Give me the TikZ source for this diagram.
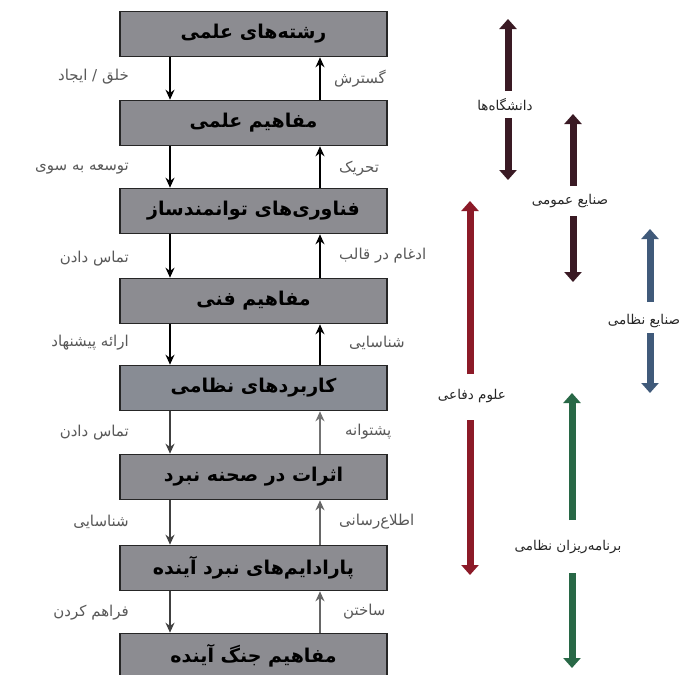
\documentclass[tikz,border=0pt]{standalone}
\usepackage{fontspec}
\usetikzlibrary{arrows.meta}
\newfontfamily\fa[Script=Arabic]{DejaVu Sans}
\TeXXeTstate=1
\definecolor{boxgray}{RGB}{140,140,145}
\definecolor{boxblue}{RGB}{136,140,148}
\definecolor{darkband}{RGB}{58,26,36}
\definecolor{redband}{RGB}{140,26,40}
\definecolor{blueband}{RGB}{64,90,122}
\definecolor{greenband}{RGB}{40,104,70}
\tikzset{
  box/.style={draw=black!85, line width=1.6, fill=boxgray, minimum width=267, minimum height=45, inner sep=0,
    font=\fa\bfseries\fontsize{19}{21}\selectfont},
  flow/.style={-{Stealth[length=10,width=9]}, line width=1.5},
  lbl/.style={font=\fa\fontsize{15}{17}\selectfont, text=black!65, inner sep=1},
  bandlbl/.style={font=\fa\fontsize{13.5}{15}\selectfont, text=black!85, inner sep=1},
  band/.style={line width=7, -{Triangle[length=10,width=17]}},
}
\begin{document}
\begin{tikzpicture}[x=1pt,y=-1pt]
\clip (0,0) rectangle (686,675);
\fill[white] (0,0) rectangle (686,675);

% boxes
\node[box] (b1) at (253.5,34)  {\beginR رشته‌های علمی\endR};
\node[box] (b2) at (253.5,123) {\beginR مفاهیم علمی\endR};
\node[box] (b3) at (253.5,211) {\beginR فناوری‌های توانمندساز\endR};
\node[box] (b4) at (253.5,301) {\beginR مفاهیم فنی\endR};
\node[box,fill=boxblue] (b5) at (253.5,388) {\beginR کاربردهای نظامی\endR};
\node[box] (b6) at (253.5,477) {\beginR اثرات در صحنه نبرد\endR};
\node[box] (b7) at (253.5,568) {\beginR پارادایم‌های نبرد آینده\endR};
\node[box] (b8) at (253.5,656) {\beginR مفاهیم جنگ آینده\endR};

\coordinate (dx) at (170,0);
\coordinate (ux) at (320,0);

% downward arrows
\foreach \a/\b/\c in {b1/b2/black, b2/b3/black, b3/b4/black, b4/b5/black, b5/b6/black!75, b6/b7/black!75, b7/b8/black!75}{
  \draw[flow, draw=\c] (\a.south -| dx) -- (\b.north -| dx);
}
% upward arrows
\foreach \a/\b/\c in {b2/b1/black, b3/b2/black, b4/b3/black, b5/b4/black, b6/b5/black!55, b7/b6/black!60, b8/b7/black!60}{
  \draw[flow, draw=\c] (\a.north -| ux) -- (\b.south -| ux);
}

% left labels
\node[lbl, anchor=east] (l1) at (130,77)  {\beginR خلق / ایجاد\endR};
\node[lbl, anchor=east] (l2) at (130,169) {\beginR توسعه به سوی\endR};
\node[lbl, anchor=east] (l3) at (130,259) {\beginR تماس دادن\endR};
\node[lbl, anchor=east] (l4) at (130,343) {\beginR ارائه پیشنهاد\endR};
\node[lbl, anchor=east] (l5) at (130,433) {\beginR تماس دادن\endR};
\node[lbl, anchor=east] (l6) at (130,522) {\beginR شناسایی\endR};
\node[lbl, anchor=east] (l7) at (130,613) {\beginR فراهم کردن\endR};

% right labels
\node[lbl, anchor=west] (r1) at (333,79)  {\beginR گسترش\endR};
\node[lbl, anchor=west] (r2) at (338,169) {\beginR تحریک\endR};
\node[lbl, anchor=west] (r3) at (338,256) {\beginR ادغام در قالب\endR};
\node[lbl, anchor=west] (r4) at (348,343) {\beginR شناسایی\endR};
\node[lbl, anchor=west] (r5) at (344,432) {\beginR پشتوانه\endR};
\node[lbl, anchor=west] (r6) at (338,522) {\beginR اطلاع‌رسانی\endR};
\node[lbl, anchor=west] (r7) at (342,612) {\beginR ساختن\endR};

% right-side bands
% universities
\node[bandlbl] (uni) at (505,105) {\beginR دانشگاه‌ها\endR};
\coordinate (uniT1) at (508,91);  \coordinate (uniT) at (508,19);
\coordinate (uniB1) at (508,118); \coordinate (uniB) at (508,180);
\draw[band, draw=darkband] (uniT1) -- (uniT);
\draw[band, draw=darkband] (uniB1) -- (uniB);

% general industries
\node[bandlbl] (gen) at (570,201) {\beginR صنایع عمومی\endR};
\coordinate (genT1) at (573,186); \coordinate (genT) at (573,114);
\coordinate (genB1) at (573,216); \coordinate (genB) at (573,282);
\draw[band, draw=darkband] (genT1) -- (genT);
\draw[band, draw=darkband] (genB1) -- (genB);

% defence sciences
\node[bandlbl] (def) at (472,396) {\beginR علوم دفاعی\endR};
\coordinate (defT1) at (470,374); \coordinate (defT) at (470,201);
\coordinate (defB1) at (470,420); \coordinate (defB) at (470,575);
\draw[band, draw=redband] (defT1) -- (defT);
\draw[band, draw=redband] (defB1) -- (defB);

% military industries
\node[bandlbl] (mil) at (644,321) {\beginR صنایع نظامی\endR};
\coordinate (milT1) at (650,302); \coordinate (milT) at (650,229);
\coordinate (milB1) at (650,333); \coordinate (milB) at (650,393);
\draw[band, draw=blueband] (milT1) -- (milT);
\draw[band, draw=blueband] (milB1) -- (milB);

% military planners
\node[bandlbl] (pln) at (568,547) {\beginR برنامه‌ریزان نظامی\endR};
\coordinate (plnT1) at (572,520); \coordinate (plnT) at (572,393);
\coordinate (plnB1) at (572,573); \coordinate (plnB) at (572,668);
\draw[band, draw=greenband] (plnT1) -- (plnT);
\draw[band, draw=greenband] (plnB1) -- (plnB);
\end{tikzpicture}
\end{document}
